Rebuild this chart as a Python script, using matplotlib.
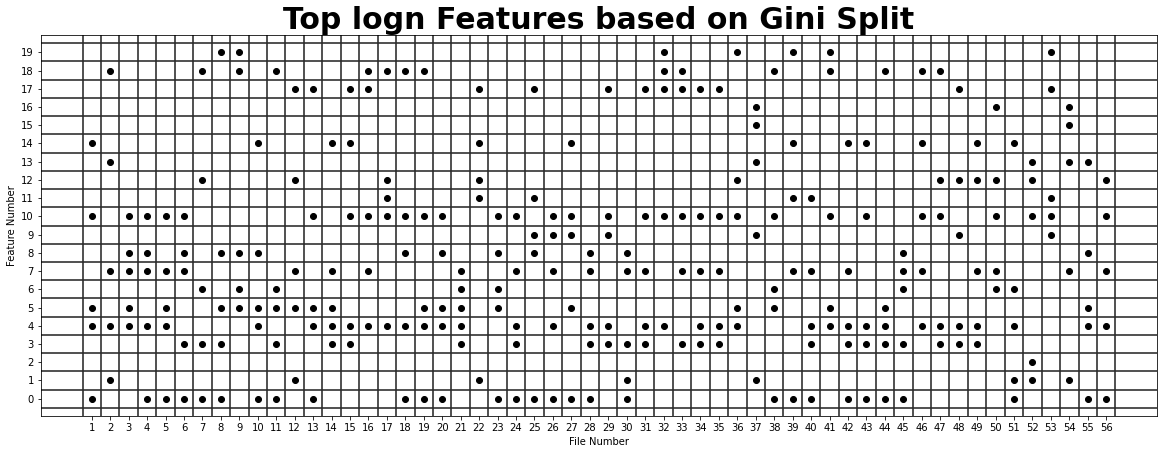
import matplotlib
matplotlib.use('Agg')
import matplotlib.pyplot as plt

# files in which each feature shows up among the top features
feature_0 = [1, 4, 5, 6, 7, 8, 10, 11, 13, 18, 19, 20, 23, 24, 25, 26, 27, 28, 30, 38, 39, 40, 42, 43, 44, 45, 51, 55, 56]
feature_1 = [2, 12, 22, 30, 37, 51, 52, 54]
feature_2 = [52]
feature_3 = [6, 7, 8, 11, 14, 15, 21, 24, 28, 29, 30, 31, 33, 34, 35, 40, 42, 43, 44, 45, 47, 48, 49]
feature_4 = [1, 2, 3, 4, 5, 10, 13, 14, 15, 16, 17, 18, 19, 20, 21, 24, 26, 28, 29, 31, 32, 34, 35, 36,
             40, 41, 42, 43, 44, 46, 47, 48, 49, 51, 55, 56]
feature_5 = [1, 3, 5, 8, 9, 10, 11, 12, 13, 14, 19, 20, 21, 23, 27, 36, 38, 41, 44, 55]
feature_6 = [7, 9, 11, 21, 23, 38, 45, 50, 51]
feature_7 = [2, 3, 4, 5, 6, 12, 14, 16, 21, 24, 26, 28, 30, 31, 33, 34, 35, 39, 40, 42, 45, 46, 49, 50, 54, 56]
feature_8 = [3, 4, 6, 8, 9, 10, 18, 20, 23, 25, 28, 30, 45, 55]
feature_9 = [25, 26, 27, 29, 37, 48, 53]
feature_10 = [1, 3, 4, 5, 6, 13, 15, 16, 17, 18, 19, 20, 23, 24, 26, 27, 29, 31, 32, 33, 34, 35, 36, 38,
              41, 43, 46, 47, 50, 52, 53, 56]
feature_11 = [17, 22, 25, 39, 40, 53]
feature_12 = [7, 12, 17, 22, 36, 47, 48, 49, 50, 52, 56]
feature_13 = [2, 37, 52, 54, 55]
feature_14 = [1, 10, 14, 15, 22, 27, 39, 42, 43, 46, 49, 51]
feature_15 = [37, 54]
feature_16 = [37, 50, 54]
feature_17 = [12, 13, 15, 16, 22, 25, 29, 31, 32, 33, 34, 35, 48, 53]
feature_18 = [2, 7, 9, 11, 16, 17, 18, 19, 32, 33, 38, 41, 44, 46, 47]
feature_19 = [8, 9, 32, 36, 39, 41, 53]

features = [feature_0, feature_1, feature_2, feature_3, feature_4, feature_5, feature_6, feature_7,
            feature_8, feature_9, feature_10, feature_11, feature_12, feature_13, feature_14,
            feature_15, feature_16, feature_17, feature_18, feature_19]
n_files = 56

x = []
y = []
for feat, files in enumerate(features):
    for f in files:
        x.append(f)
        y.append(feat)

fig = plt.figure(figsize=(1164 / 72, 454 / 72), dpi=72)
ax = fig.add_axes([41 / 1164, 1 - 416 / 454, 1116 / 1164, 381 / 454])

ax.scatter(x, y, color='black', zorder=3)

for i in range(len(features) + 1):
    ax.axhline(i - 0.5, color='#2a2a2a', lw=1.6)
for i in range(n_files + 1):
    ax.axvline(i + 0.5, color='#2a2a2a', lw=1.6)

ax.set_xticks(range(1, n_files + 1))
ax.set_yticks(range(len(features)))
ax.set_xlim(-1.75, 58.75)
ax.set_ylim(-0.95, 19.95)
ax.set_xlabel('File Number')
ax.set_ylabel('Feature Number')
ax.set_title('Top logn Features based on Gini Split', fontsize=30, fontweight='bold', pad=4)

fig.savefig('out.png', dpi=72)
